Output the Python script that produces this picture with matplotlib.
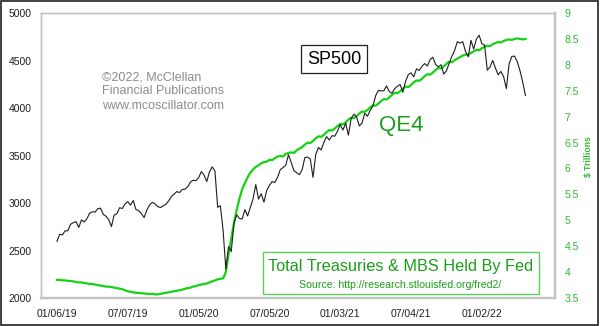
import matplotlib

matplotlib.use("Agg")
import matplotlib.pyplot as plt
import pandas as pd
from matplotlib.patches import Rectangle

plt.rcParams["font.family"] = ["Liberation Sans", "DejaVu Sans"]

# weekly S&P 500 closes, first week of Jan 2019 through end of Apr 2022
sp500 = [
    2596, 2671, 2665, 2707, 2708, 2776, 2793, 2804, 2743, 2822,
    2801, 2834, 2893, 2907, 2905, 2940, 2946, 2881, 2860, 2826,
    2752, 2873, 2887, 2950, 2942, 2990, 3014, 2977, 3026, 2932,
    2919, 2889, 2847, 2926, 2979, 3007, 2992, 2962, 2952, 2970,
    2986, 3023, 3067, 3093, 3120, 3110, 3141, 3146, 3169, 3221,
    3240,
    3235, 3265, 3330, 3295, 3226, 3328, 3380, 3338, 2954, 2972,
    2711, 2305, 2541, 2489, 2790, 2875, 2837, 2831, 2930, 2864,
    2955, 3044, 3194, 3041, 3098, 3009, 3130, 3185, 3225, 3216,
    3271, 3351, 3373, 3397, 3508, 3427, 3341, 3319, 3298, 3348,
    3477, 3484, 3465, 3270, 3509, 3585, 3558, 3638, 3699, 3663,
    3709, 3703, 3756,
    3825, 3768, 3841, 3714, 3887, 3935, 3907, 3811, 3842, 3943,
    3913, 3975, 4020, 4129, 4185, 4180, 4181, 4233, 4174, 4156,
    4204, 4230, 4247, 4166, 4281, 4352, 4370, 4327, 4412, 4395,
    4437, 4468, 4442, 4509, 4535, 4459, 4433, 4455, 4357, 4391,
    4471, 4545, 4605, 4698, 4683, 4698, 4595, 4538, 4712, 4621,
    4726, 4766,
    4677, 4663, 4398, 4432, 4501, 4419, 4349, 4385, 4329, 4204,
    4463, 4543, 4546, 4488, 4393, 4272, 4132,
]

# Treasuries + MBS held by the Fed, $ trillions, same weeks
fed_holdings = [
    3.85, 3.85, 3.84, 3.84, 3.83, 3.83, 3.82, 3.81, 3.80, 3.80,
    3.79, 3.78, 3.77, 3.77, 3.76, 3.75, 3.74, 3.73, 3.72, 3.72,
    3.71, 3.70, 3.69, 3.68, 3.67, 3.65, 3.63, 3.62, 3.61, 3.60,
    3.60, 3.59, 3.59, 3.58, 3.58, 3.58, 3.57, 3.57, 3.58, 3.59,
    3.60, 3.61, 3.62, 3.63, 3.64, 3.65, 3.66, 3.68, 3.69, 3.70,
    3.72, 3.73, 3.75, 3.76, 3.77, 3.78, 3.80, 3.82, 3.84, 3.86,
    3.87, 3.88, 4.00, 4.35, 4.65, 4.95, 5.20, 5.42, 5.60, 5.72,
    5.83, 5.92, 5.98, 6.03, 6.06, 6.10, 6.12, 6.13, 6.17, 6.16,
    6.20, 6.23, 6.24, 6.23, 6.28, 6.30, 6.31, 6.30, 6.35, 6.38,
    6.41, 6.46, 6.50, 6.49, 6.53, 6.58, 6.62, 6.61, 6.65, 6.70,
    6.74, 6.73, 6.77, 6.82, 6.86, 6.85, 6.89, 6.94, 6.98, 6.97,
    7.01, 7.06, 7.10, 7.09, 7.13, 7.18, 7.22, 7.21, 7.25, 7.30,
    7.34, 7.33, 7.37, 7.42, 7.46, 7.45, 7.49, 7.54, 7.58, 7.57,
    7.61, 7.66, 7.70, 7.69, 7.73, 7.78, 7.82, 7.81, 7.85, 7.90,
    7.94, 7.93, 7.97, 8.02, 8.06, 8.05, 8.09, 8.12, 8.15, 8.18,
    8.20, 8.19, 8.23, 8.26, 8.29, 8.28, 8.32, 8.35, 8.37, 8.36,
    8.40, 8.42, 8.44, 8.43, 8.46, 8.48, 8.49, 8.48, 8.50, 8.51,
    8.50, 8.49, 8.50,
]

weeks = pd.date_range("2019-01-06", periods=len(sp500), freq="7D")
x_ticks = pd.date_range("2019-01-06", periods=7, freq="182D")
left_ticks = [2000, 2500, 3000, 3500, 4000, 4500, 5000]
right_ticks = [3.5, 4, 4.5, 5, 5.5, 6, 6.5, 7, 7.5, 8, 8.5, 9]
right_labels = ["3.5", "4", "4.5", "5", "5.5", "6", "6.5", "7", "7.5", "8", "8.5", "9"]

GREEN_LINE = "#14d214"
GREEN_TEXT = "#1a9e1a"
GREEN_TICK = "#30b830"
FRAME = "#c4c4c4"

W, H = 600, 326
fig = plt.figure(figsize=(W / 100, H / 100), dpi=100)
ax = fig.add_axes([41 / W, 1 - 298 / H, (555 - 41) / W, (298 - 13) / H])
ax2 = ax.twinx()

ax2.plot(weeks, fed_holdings, color=GREEN_LINE, lw=1.6, solid_joinstyle="round")
ax.plot(weeks, sp500, color="#1e1e1e", lw=0.8)

# keep the index line above the holdings line
ax.set_zorder(ax2.get_zorder() + 1)
ax.patch.set_visible(False)

ax.set_xlim(pd.Timestamp("2019-01-06") - pd.Timedelta(days=41),
            pd.Timestamp("2019-01-06") + pd.Timedelta(days=1280))
ax.set_ylim(2000, 5000)
ax2.set_ylim(3.5, 9)

ax.set_xticks(x_ticks)
ax.set_xticklabels([d.strftime("%m/%d/%y") for d in x_ticks])
ax.set_yticks(left_ticks)
ax.set_yticklabels([str(v) for v in left_ticks])
ax2.set_yticks(right_ticks)
ax2.set_yticklabels(right_labels)

ax.tick_params(axis="x", length=0, pad=8, labelsize=7.5, colors="#202020")
ax.tick_params(axis="y", length=0, pad=7, labelsize=7.5, colors="#202020")
ax2.tick_params(axis="y", length=0, pad=7, labelsize=7.5, colors=GREEN_TICK)

for a in (ax, ax2):
    for side, sp in a.spines.items():
        sp.set_color(FRAME)
        sp.set_linewidth(1.6 if side in ("bottom", "right") else 1.0)

# annotations
fig.text(334 / W, 1 - 59 / H, "SP500", fontsize=13, ha="center", va="center",
         bbox=dict(boxstyle="square,pad=0.3", fc="white", ec="#202020", lw=0.9))
fig.text(401 / W, 1 - 126 / H, "QE4", fontsize=16, ha="center", va="center",
         color=GREEN_TEXT)

for y, line in zip((77, 91, 106),
                   ("©2022, McClellan", "Financial Publications", "www.mcoscillator.com")):
    fig.text(102 / W, 1 - y / H, line, fontsize=9, ha="left", va="center",
             color="#8c8c8c")

fig.patches.append(Rectangle((263 / W, 1 - 294 / H), (539 - 263) / W, (294 - 252) / H,
                             transform=fig.transFigure, fc="white",
                             ec="#5ccf5c", lw=1.0, zorder=3))
fig.text(401 / W, 1 - 266 / H, "Total Treasuries & MBS Held By Fed", fontsize=11.7,
         ha="center", va="center", color=GREEN_TEXT, zorder=4)
fig.text(400 / W, 1 - 285 / H, "Source: http://research.stlouisfed.org/fred2/",
         fontsize=7.6, ha="center", va="center", color=GREEN_TEXT, zorder=4)

fig.text(588 / W, 1 - 157 / H, "$ Trillions", fontsize=6.2, fontweight="bold",
         rotation=90, ha="center", va="center", color=GREEN_TICK)

# outer frame around the whole figure
fig.patches.append(Rectangle((0.002, 0.003), 0.994, 0.994, transform=fig.transFigure,
                             fill=False, ec="#202020", lw=1.2))

fig.savefig("out.png", dpi=100)
